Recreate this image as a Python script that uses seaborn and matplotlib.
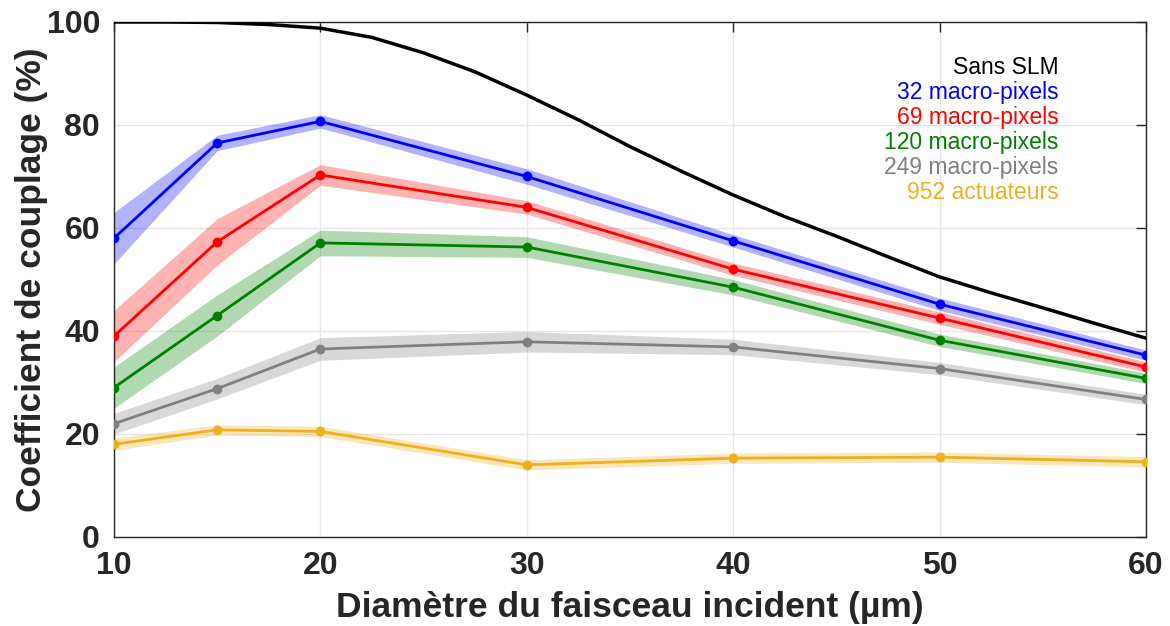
import matplotlib
matplotlib.use("Agg")
import matplotlib.pyplot as plt
import seaborn as sns
import pandas as pd

# diameters where SLM runs were measured
diam = [10, 15, 20, 30, 40, 50, 60]

# coupling without SLM
diam_ref = [10, 12.5, 15, 17.5, 20, 22.5, 25, 27.5, 30, 32.5, 35, 37.5, 40,
            42.5, 45, 47.5, 50, 52.5, 55, 57.5, 60]
sans_slm = [100, 100, 99.9, 99.5, 98.8, 97.0, 94.0, 90.3, 85.8, 81.0, 75.8, 71.0,
            66.4, 62.2, 58.4, 54.4, 50.5, 47.4, 44.5, 41.5, 38.6]

px32 = [58.0, 76.5, 80.7, 70.0, 57.5, 45.2, 35.3]
px32_err = [5.0, 1.5, 1.3, 1.5, 1.2, 1.2, 1.0]
px69 = [39.0, 57.3, 70.3, 64.0, 52.0, 42.5, 33.0]
px69_err = [5.0, 4.5, 2.0, 1.3, 1.2, 1.2, 1.0]
px120 = [29.0, 43.0, 57.1, 56.3, 48.5, 38.2, 30.8]
px120_err = [4.0, 4.0, 2.5, 2.0, 1.5, 1.2, 1.0]
px249 = [22.0, 28.8, 36.5, 37.9, 36.9, 32.7, 26.7]
px249_err = [2.0, 2.0, 2.2, 2.0, 1.5, 1.2, 1.0]
act952 = [18.0, 20.8, 20.5, 14.0, 15.3, 15.5, 14.6]
act952_err = [1.2, 1.0, 1.0, 1.0, 1.0, 1.0, 1.0]

labels = ["32 macro-pixels", "69 macro-pixels", "120 macro-pixels",
          "249 macro-pixels", "952 actuateurs"]
colors = ["#0000ff", "#ff0000", "#008000", "#808080", "#edb120"]
series = [(px32, px32_err), (px69, px69_err), (px120, px120_err),
          (px249, px249_err), (act952, act952_err)]

sns.set_style("white")
plt.rcParams["font.family"] = ["Liberation Sans", "DejaVu Sans"]

fig = plt.figure(figsize=(11.7, 6.26), dpi=100)
ax = fig.add_axes([0.0974, 0.1422, 0.8821, 0.8227])

rows = []
for lab, (vals, err) in zip(labels, series):
    for d, v, e in zip(diam, vals, err):
        rows.append({"diam": d, "val": v, "lo": v - e, "hi": v + e, "set": lab})
df = pd.DataFrame(rows)

for lab, col in zip(labels, colors):
    sub = df[df["set"] == lab]
    ax.fill_between(sub["diam"], sub["lo"], sub["hi"], color=col, alpha=0.3,
                    linewidth=0)

sns.lineplot(data=df, x="diam", y="val", hue="set", palette=dict(zip(labels, colors)),
             marker="o", markersize=7, markeredgewidth=0, linewidth=2,
             legend=False, ax=ax, zorder=3)

ref = pd.DataFrame({"diam": diam_ref, "val": sans_slm})
sns.lineplot(data=ref, x="diam", y="val", color="black", linewidth=2.5, ax=ax,
             zorder=4)

ax.set_xlim(10, 60)
ax.set_ylim(0, 100)
ax.set_xticks([10, 20, 30, 40, 50, 60])
ax.set_yticks([0, 20, 40, 60, 80, 100])
ax.grid(True, color="#e6e6e6", linewidth=1)
ax.set_axisbelow(True)
for s in ax.spines.values():
    s.set_color("#262626")
    s.set_linewidth(1)
    s.set_visible(True)
ax.tick_params(direction="in", length=7, width=1, top=True, right=True,
               colors="#262626", labelsize=23, pad=10)
for t in ax.get_xticklabels() + ax.get_yticklabels():
    t.set_fontweight("bold")
ax.set_xlabel("Diamètre du faisceau incident (µm)", fontsize=25.5, fontweight="bold",
              color="#262626", labelpad=7)
ax.set_ylabel("Coefficient de couplage (%)", fontsize=25.5, fontweight="bold",
              color="#262626", labelpad=-1)

leg_labels = ["Sans SLM"] + labels
leg_colors = ["black"] + colors
for i, (lab, col) in enumerate(zip(leg_labels, leg_colors)):
    ax.text(0.915, 0.912 - i * 0.0485, lab, color=col, fontsize=16.5,
            ha="right", va="center", transform=ax.transAxes)

fig.savefig("out.png", dpi=100)
